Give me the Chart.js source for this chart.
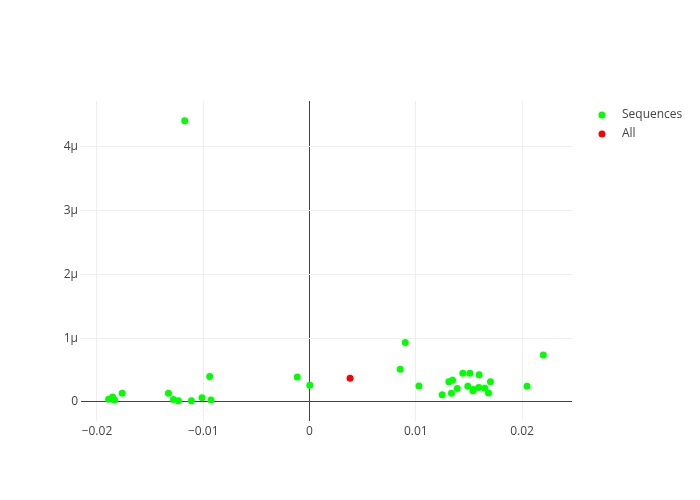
<!DOCTYPE html>
<html lang="en">
<head>
  <meta charset="UTF-8">
  <title>Sequences scatter</title>
  <script src="https://cdn.jsdelivr.net/npm/chart.js"></script>
  <style>
    html, body { margin: 0; padding: 0; background: #fff; }
    #wrap { width: 700px; height: 500px; }
  </style>
</head>
<body>
  <div id="wrap"><canvas id="myChart" width="700" height="500"></canvas></div>

  <script>
    // values
    const seriesNames = ['Sequences', 'All'];
    const seriesColors = ['#00ff00', '#ff0000'];

    const seqX = [-0.01890, -0.01853, -0.01834, -0.01762, -0.01327, -0.01280, -0.01233, -0.01111,
                  -0.01011, -0.00939, -0.00927, -0.01174, -0.00115, 0.00003,
                  0.00901, 0.00854, 0.01030, 0.01249, 0.01311, 0.01346, 0.01336, 0.01390,
                  0.01443, 0.01509, 0.01490, 0.01537, 0.01543, 0.01596, 0.01593, 0.01650,
                  0.01684, 0.01703, 0.02047, 0.02200];
    const seqY = [0.042e-6, 0.078e-6, 0.031e-6, 0.137e-6, 0.137e-6, 0.036e-6, 0.016e-6, 0.016e-6,
                  0.063e-6, 0.397e-6, 0.031e-6, 4.412e-6, 0.392e-6, 0.262e-6,
                  0.930e-6, 0.513e-6, 0.251e-6, 0.110e-6, 0.314e-6, 0.340e-6, 0.136e-6, 0.209e-6,
                  0.450e-6, 0.450e-6, 0.246e-6, 0.173e-6, 0.193e-6, 0.424e-6, 0.225e-6, 0.215e-6,
                  0.141e-6, 0.314e-6, 0.246e-6, 0.737e-6];
    const allX = [0.00382];
    const allY = [0.372e-6];

    const xTicks = [-0.02, -0.01, 0, 0.01, 0.02];
    const yTicks = [0, 1e-6, 2e-6, 3e-6, 4e-6];
    const yTickLabels = ['0', '1μ', '2μ', '3μ', '4μ'];

    const toPoints = (xs, ys) => xs.map((x, i) => ({ x: x, y: ys[i] }));

    // simple legend drawn on the right, plotly style
    const sideLegend = {
      id: 'sideLegend',
      afterDraw(chart) {
        const ctx = chart.ctx;
        ctx.save();
        ctx.font = '12px "Open Sans"';
        ctx.textBaseline = 'middle';
        chart.data.datasets.forEach((ds, i) => {
          const y = 115 + i * 19;
          ctx.fillStyle = ds.backgroundColor;
          ctx.beginPath();
          ctx.arc(602, y, 3.5, 0, Math.PI * 2);
          ctx.fill();
          ctx.fillStyle = '#444';
          ctx.fillText(ds.label, 622, y);
        });
        ctx.restore();
      }
    };

    const gridColor = c => (c.tick && c.tick.value === 0) ? '#444' : '#eee';

    const ctx = document.getElementById('myChart').getContext('2d');
    const myChart = new Chart(ctx, {
      type: 'scatter',
      data: {
        datasets: [
          {
            label: seriesNames[0],
            data: toPoints(seqX, seqY),
            backgroundColor: seriesColors[0],
            borderWidth: 0,
            pointRadius: 3.5,
          },
          {
            label: seriesNames[1],
            data: toPoints(allX, allY),
            backgroundColor: seriesColors[1],
            borderWidth: 0,
            pointRadius: 3.5,
          },
        ],
      },
      options: {
        responsive: false,
        animation: false,
        layout: { padding: { top: 101, right: 128, left: 0, bottom: 0 } },
        plugins: {
          legend: { display: false },
          tooltip: { enabled: false },
        },
        scales: {
          x: {
            type: 'linear',
            min: -0.0215,
            max: 0.0247,
            afterBuildTicks: axis => { axis.ticks = xTicks.map(v => ({ value: v })); },
            afterFit: scale => { scale.height = 79; },
            border: { display: false },
            grid: { color: gridColor, lineWidth: 1, drawTicks: false },
            ticks: {
              padding: 3,
              color: '#444',
              font: { family: 'Open Sans', size: 12 },
              maxRotation: 0,
              callback: v => (v === 0 ? '0' : String(+v.toFixed(2)).replace('-', '−')),
            },
          },
          y: {
            type: 'linear',
            min: -0.30e-6,
            max: 4.72e-6,
            afterBuildTicks: axis => { axis.ticks = yTicks.map(v => ({ value: v })); },
            afterFit: scale => { scale.width = 81; },
            border: { display: false },
            grid: { color: gridColor, lineWidth: 1, drawTicks: false },
            ticks: {
              padding: 3,
              color: '#444',
              font: { family: 'Open Sans', size: 12 },
              callback: (v, i) => yTickLabels[i],
            },
          },
        },
      },
      plugins: [sideLegend],
    });
  </script>
</body>
</html>
